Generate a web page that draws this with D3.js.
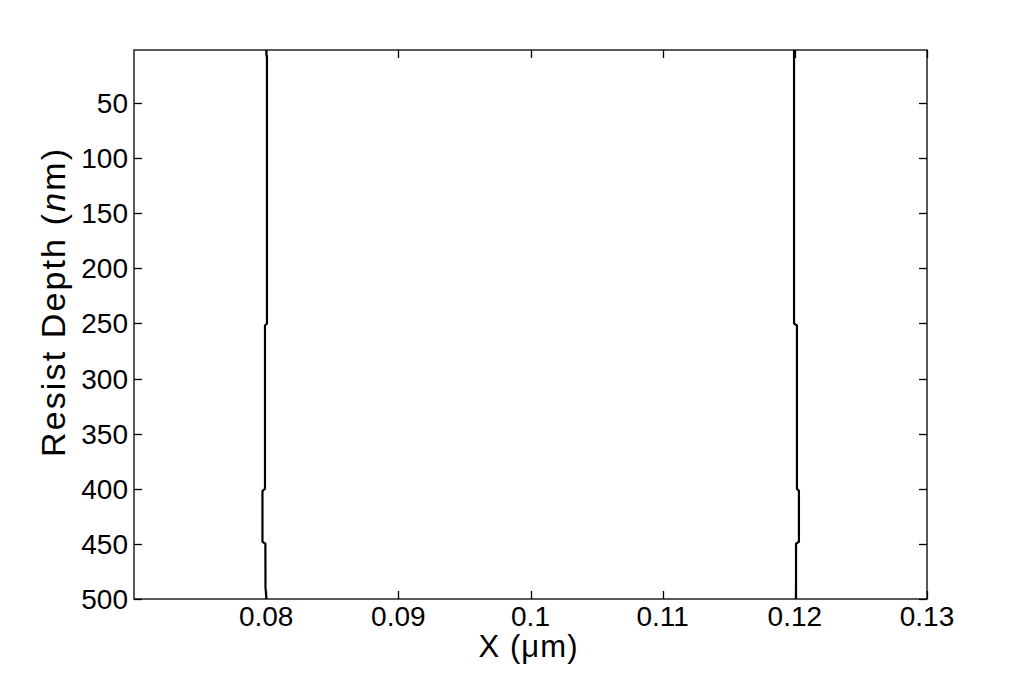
<!DOCTYPE html>
<html>
<head>
<meta charset="utf-8">
<script src="https://cdn.jsdelivr.net/npm/d3@7"></script>
<style>
  html, body { margin: 0; padding: 0; background: #fff; }
  svg { display: block; }
  text { font-family: "Liberation Sans", Arial, sans-serif; fill: #000; }
</style>
</head>
<body>
<svg id="chart" width="1024" height="673"></svg>
<script>
// ---- data ----
const xTicks = [0.08, 0.09, 0.1, 0.11, 0.12, 0.13];
const xTickLabels = ["0.08", "0.09", "0.1", "0.11", "0.12", "0.13"];
const yTicks = [50, 100, 150, 200, 250, 300, 350, 400, 450, 500];
const yTickLabels = ["50", "100", "150", "200", "250", "300", "350", "400", "450", "500"];

// left sidewall profile (depth nm, x µm)
const leftDepth = [2, 6, 8, 250, 252, 400, 402, 448, 450, 490, 500];
const leftX =     [0.08002, 0.08002, 0.08006, 0.08006, 0.07991, 0.07991, 0.07972, 0.07972, 0.07994, 0.07995, 0.08002];
// right sidewall profile (depth nm, x µm)
const rightDepth = [2, 250, 252, 400, 402, 448, 450, 490, 500];
const rightX =     [0.11994, 0.11994, 0.12016, 0.12016, 0.12031, 0.12031, 0.12009, 0.12009, 0.12009];

// ---- layout ----
const svg = d3.select("#chart");
const L = 134, R = 927, T = 50, B = 599;
const x = d3.scaleLinear().domain([0.07, 0.13]).range([L, R]);
const y = d3.scaleLinear().domain([2, 500]).range([T, B]);
const tickLen = 8;
const fs = 28;

// frame
svg.append("rect").attr("x", L).attr("y", T).attr("width", R - L).attr("height", B - T)
  .attr("fill", "none").attr("stroke", "#000").attr("stroke-width", 1.3);

// x ticks (bottom & top, inward)
const gx = svg.append("g");
xTicks.forEach((t, i) => {
  const px = Math.round(x(t)) + 0.5;
  gx.append("line").attr("x1", px).attr("x2", px).attr("y1", B).attr("y2", B - tickLen).attr("stroke", "#000").attr("stroke-width", 1.3);
  gx.append("line").attr("x1", px).attr("x2", px).attr("y1", T).attr("y2", T + tickLen).attr("stroke", "#000").attr("stroke-width", 1.3);
  gx.append("text").attr("x", x(t)).attr("y", B + 27).attr("text-anchor", "middle")
    .attr("font-size", fs).text(xTickLabels[i]);
});

// y ticks (left & right, inward)
const gy = svg.append("g");
yTicks.forEach((t, i) => {
  const py = Math.round(y(t)) + 0.5;
  gy.append("line").attr("x1", L).attr("x2", L + tickLen).attr("y1", py).attr("y2", py).attr("stroke", "#000").attr("stroke-width", 1.3);
  gy.append("line").attr("x1", R).attr("x2", R - tickLen).attr("y1", py).attr("y2", py).attr("stroke", "#000").attr("stroke-width", 1.3);
  gy.append("text").attr("x", L - 6).attr("y", y(t) + 10).attr("text-anchor", "end")
    .attr("font-size", fs).text(yTickLabels[i]);
});

// profiles
const line = d3.line().x(d => x(d[1])).y(d => y(d[0]));
const leftPts = leftDepth.map((d, i) => [d, leftX[i]]);
const rightPts = rightDepth.map((d, i) => [d, rightX[i]]);
[leftPts, rightPts].forEach(pts => {
  svg.append("path").datum(pts).attr("d", line)
    .attr("fill", "none").attr("stroke", "#000").attr("stroke-width", 2.2);
});

// axis labels
const xl = svg.append("text").attr("x", 528).attr("y", 657).attr("text-anchor", "middle")
  .attr("font-size", 31).attr("textLength", 99).attr("lengthAdjust", "spacing");
xl.append("tspan").text("X (");
xl.append("tspan").text("\u03BC");
xl.append("tspan").text("m)");

const yl = svg.append("text").attr("transform", `translate(65,303) rotate(-90)`)
  .attr("text-anchor", "middle").attr("font-size", 34)
  .attr("textLength", 308).attr("lengthAdjust", "spacing");
yl.append("tspan").text("Resist Depth (");
yl.append("tspan").attr("font-style", "italic").text("n");
yl.append("tspan").text("m)");
</script>
</body>
</html>
